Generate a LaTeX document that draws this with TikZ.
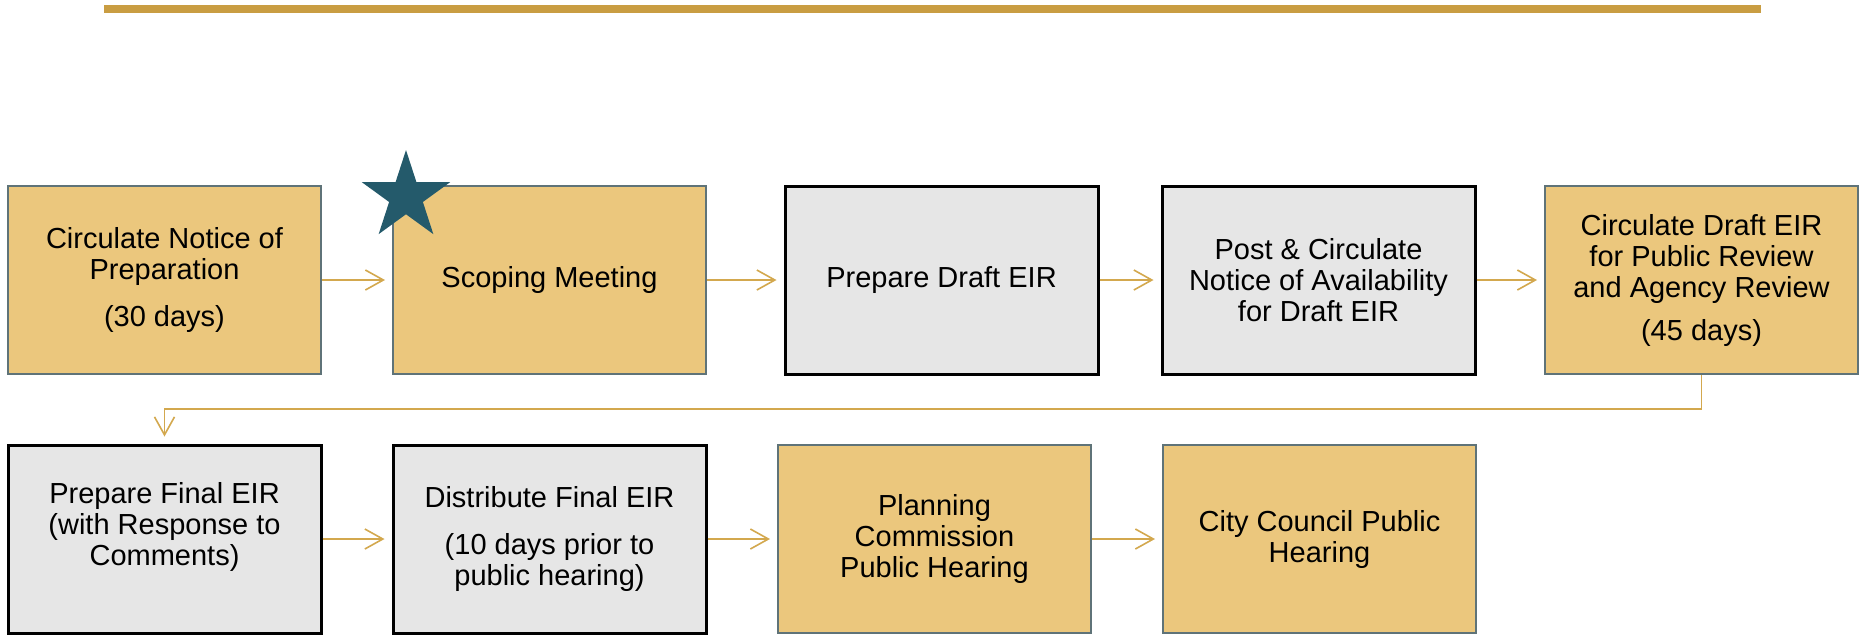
\documentclass[tikz,border=0pt]{standalone}
\usepackage{fontspec}
\setmainfont{Liberation Sans}
\usetikzlibrary{positioning,shapes.geometric,arrows.meta}
\definecolor{goldfill}{HTML}{EBC77D}
\definecolor{goldline}{HTML}{D3A84E}
\definecolor{barcol}{HTML}{C99D42}
\definecolor{slate}{HTML}{5F7378}
\definecolor{greyfill}{HTML}{E6E6E6}
\definecolor{starcol}{HTML}{245A6B}

\begin{document}
\begin{tikzpicture}[x=0.5pt, y=-0.5pt, node distance={192.5pt},
	gold/.style={draw=slate, line width=1pt, fill=goldfill, minimum width=156.5pt, minimum height=94pt, inner sep=0pt, align=center, font=\fontsize{14.5}{15.5}\selectfont},
	grey/.style={gold, draw=black, line width=1.5pt, fill=greyfill},
	flow/.style={goldline, line width=0.8pt, -{Straight Barb[length=9pt,width=10pt]}, shorten >=3.5pt},
	starmark/.style={star, star points=5, star point ratio=2.618, fill=starcol, minimum size=46.5pt, inner sep=0pt}]
		\useasboundingbox (0,0) rectangle (1860,634);
		\draw[barcol, line width=3.8pt] (104,9) -- (1761,9);

		\node[gold] (1) at (164.5,280) {Circulate Notice of\\Preparation\\[8pt](30 days)};
		\node[gold] (2) [right of=1] {Scoping Meeting};
		\node[grey] (3) [right of=2, xshift=3.5pt] {Prepare Draft EIR};
		\node[grey] (4) [right of=3, xshift=-4pt] {Post \& Circulate\\Notice of Availability\\for Draft EIR};
		\node[gold] (5) [right of=4, xshift=-1pt] {Circulate Draft EIR\\for Public Review\\and Agency Review\\[6pt](45 days)};

		\node[grey] (6) at (164.5,539) {Prepare Final EIR\\(with Response to\\Comments)\\\mbox{}};
		\node[grey] (7) [right of=6] {Distribute Final EIR\\[8pt](10 days prior to\\public hearing)};
		\node[gold] (8) [right of=7] {Planning\\Commission\\Public Hearing};
		\node[gold] (9) [right of=8] {City Council Public\\Hearing};

		\node[starmark] (s) at ([xshift=7pt,yshift=-5.75pt]2.north west) {};

		\draw[flow] (1) -- (2);
		\draw[flow] (2) -- (3);
		\draw[flow] (3) -- (4);
		\draw[flow] (4) -- (5);
		\draw[flow] (5.south) -- ++(0,34) -| (6.north);
		\draw[flow] (6) -- (7);
		\draw[flow] (7) -- (8);
		\draw[flow] (8) -- (9);
	\end{tikzpicture}
\end{document}
